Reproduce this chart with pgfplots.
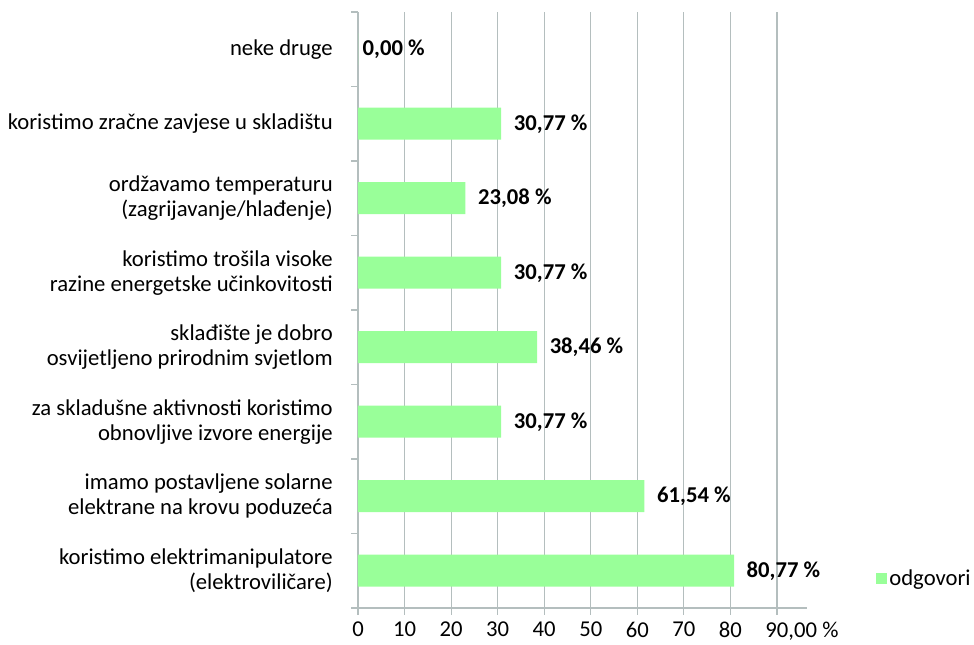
\documentclass[border=0pt]{standalone}
\usepackage{pgfplots}
\pgfplotsset{compat=1.18}
\usepackage{fontspec}
\setmainfont{Carlito}
\definecolor{bargreen}{RGB}{153,255,153}
\definecolor{gridc}{RGB}{180,190,190}

\begin{document}
\begin{tikzpicture}
\begin{axis}[
    scale only axis, width=314.25pt, height=447pt,
    xmin=0, xmax=90, ymin=-0.5, ymax=7.5,
    axis x line*=bottom, axis y line*=left,
    axis line style={gridc, line width=0.9pt, -},
    xbar, bar width=24pt, bar shift=0pt,
    xtick={0,10,...,90},
    xticklabels={0,10,20,30,40,50,60,70,80,{90\rlap{,00 \%}}},
    xmajorgrids, grid style={gridc, line width=0.9pt},
    ytick={-0.5,0.5,...,7.5}, yticklabels={},
    tick style={gridc, line width=0.9pt},
    major tick length=5pt, tick align=outside,
    tick label style={font=\fontsize{17}{19}\selectfont, text=black},
    xticklabel style={yshift=-2pt},
    extra y ticks={0,1,2,3,4,5,6,7},
    extra y tick labels={
        {koristimo elektrimanipulatore\\(elektroviličare)},
        {imamo postavljene solarne\\elektrane na krovu poduzeća},
        {za skladušne aktivnosti koristimo\\obnovljive izvore energije},
        {sklađište je dobro\\osvijetljeno prirodnim svjetlom},
        {koristimo trošila visoke\\razine energetske učinkovitosti},
        {ordžavamo temperaturu\\(zagrijavanje/hlađenje)},
        {koristimo zračne zavjese u skladištu},
        {neke druge}},
    extra y tick style={major tick length=0pt, ymajorgrids=false,
        yticklabel style={align=right, inner sep=0pt, xshift=-18.75pt}},
    point meta=explicit symbolic,
    nodes near coords,
    nodes near coords style={font=\bfseries\fontsize{17}{19}\selectfont, text=black, anchor=west, xshift=6pt},
    legend style={at={(rel axis cs:1.235,0.05)}, anchor=west, draw=none, fill=none,
        font=\fontsize{17}{19}\selectfont, inner sep=0pt},
    legend image code/.code={\fill[#1] (0pt,-4.1pt) rectangle (8.25pt,4.1pt);},
    clip=false,
]
\addplot[fill=bargreen, draw=none] coordinates {
(80.77,0) [80,77 \%]
(61.54,1) [61,54 \%]
(30.77,2) [30,77 \%]
(38.46,3) [38,46 \%]
(30.77,4) [30,77 \%]
(23.08,5) [23,08 \%]
(30.77,6) [30,77 \%]
};
\addlegendentry{odgovori}
\addplot[fill=bargreen, draw=none, forget plot,
    nodes near coords style={xshift=-6pt}] coordinates {
(0,7) [0,00 \%]
};
\draw[gridc, line width=0.9pt] (rel axis cs:1,0) -- ++(22.5pt,0pt);
\draw[gridc, line width=0.9pt] (rel axis cs:0,0) -- ++(-4.5pt,0pt);
\coordinate (o) at (rel axis cs:0,0);
\end{axis}
\path (o) ++(-268.5pt,-24.75pt) rectangle ++(730.5pt,480.75pt);
\end{tikzpicture}
\end{document}
